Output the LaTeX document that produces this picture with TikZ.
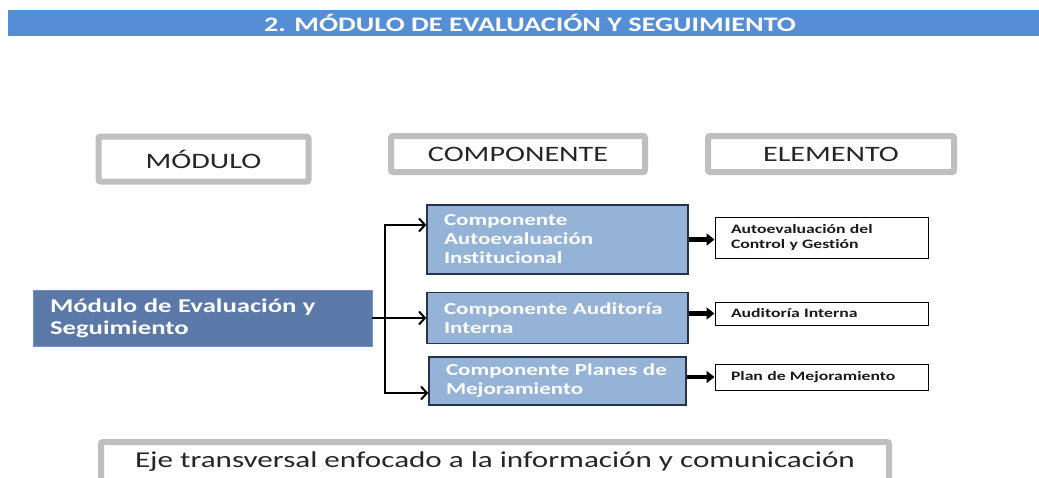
\documentclass[tikz,border=0pt]{standalone}
\usepackage{fontspec}
\setmainfont{Carlito}
\newfontfamily\wf[FakeStretch=1.37,RawFeature=-liga]{Carlito}
\usetikzlibrary{arrows.meta}
\definecolor{titlebar}{HTML}{558ED5}
\definecolor{hdrgray}{HTML}{BFBFBF}
\definecolor{hdrtext}{HTML}{262626}
\definecolor{modfill}{HTML}{5A78A8}
\definecolor{modline}{HTML}{7391BE}
\definecolor{compfill}{HTML}{95B3D7}
\definecolor{compline}{HTML}{26344D}
\definecolor{eltext}{HTML}{1A1A1A}
\begin{document}
\begin{tikzpicture}[x=1pt,y=-1pt,
  hdr/.style={draw=hdrgray, line width=6pt, rounded corners=2pt, fill=white, inner sep=0pt,
    font=\wf\fontsize{22}{24}\selectfont, text=hdrtext},
  modbox/.style={fill=modfill, draw=modline, line width=0.8pt, inner xsep=17pt, inner ysep=0pt, align=left, text=white,
    font=\wf\bfseries\fontsize{19.5}{22}\selectfont},
  compbox/.style={fill=compfill, draw=compline, line width=1.3pt, inner xsep=17pt, inner ysep=0pt,
    align=left, text=white, font=\wf\bfseries\fontsize{16.8}{19}\selectfont},
  elbox/.style={fill=white, draw=black, line width=1pt, inner xsep=16pt, inner ysep=0pt,
    align=left, text=eltext, font=\wf\bfseries\fontsize{12.9}{15}\selectfont},
  conn/.style={draw=black, line width=2pt, line join=miter},
  arr/.style={conn, -{Straight Barb[length=6pt,width=13pt]}},
  thickarr/.style={draw=black, line width=4.5pt, -{Triangle[length=8pt,width=12pt]}}
]
\clip (0,0) rectangle (1039,477);
\fill[white] (0,0) rectangle (1039,477);

% title bar
\node[fill=titlebar, minimum width=1031pt, minimum height=26pt, inner sep=0pt] (bar) at (523.5,23) {};
\node[text=white, font=\wf\bfseries\fontsize{20.6}{22}\selectfont, inner sep=0pt] (title) at (530,23) {2. MÓDULO DE EVALUACIÓN Y SEGUIMIENTO};

% header boxes
\node[hdr, minimum width=210pt, minimum height=45pt] (hmod) at (203.5,159) {MÓDULO};
\node[hdr, minimum width=254pt, minimum height=36pt] (hcomp) at (518,154) {COMPONENTE};
\node[hdr, minimum width=246pt, minimum height=36pt] (hel) at (831,154) {ELEMENTO};

% module
\node[modbox, minimum width=339pt, minimum height=56pt, text width=305pt] (mod) at (202.5,318)
  {Módulo de Evaluación y\\Seguimiento};

% components
\node[compbox, minimum width=261pt, minimum height=69pt, text width=227pt] (c1) at (557.5,239.5)
  {Componente\\Autoevaluación\\Institucional};
\node[compbox, minimum width=261pt, minimum height=51pt, text width=227pt] (c2) at (557.5,318)
  {Componente Auditoría\\Interna};
\node[compbox, minimum width=257pt, minimum height=48pt, text width=223pt] (c3) at (557.5,381)
  {Componente Planes de\\Mejoramiento};

% elements
\node[elbox, minimum width=213pt, minimum height=41pt, text width=181pt] (e1) at (821.5,237.5)
  {Autoevaluación del\\Control y Gestión};
\node[elbox, minimum width=213pt, minimum height=23pt, text width=181pt] (e2) at (821.5,313.5)
  {Auditoría Interna};
\node[elbox, minimum width=213pt, minimum height=26pt, text width=181pt] (e3) at (821.5,377)
  {Plan de Mejoramiento};

% bottom box
\node[hdr, minimum width=788pt, minimum height=40pt, font=\wf\fontsize{22.7}{24}\selectfont] (eje) at (495,462)
  {Eje transversal enfocado a la información y comunicación};

% connectors
\coordinate (j) at ([xshift=13pt]mod.east);
\draw[conn] (mod.east) -- (j);
\draw[arr] (j) |- ([yshift=14.5pt]c1.west);
\draw[arr] (j) -- (c2.west);
\draw[arr] (j) |- ([yshift=-12pt]c3.west);

\draw[thickarr] (c1.east) -- (c1.east -| e1.west);
\draw[thickarr] (e2.west -| c2.east) -- (e2.west);
\draw[thickarr] (e3.west -| c3.east) -- (e3.west);
\end{tikzpicture}
\end{document}
